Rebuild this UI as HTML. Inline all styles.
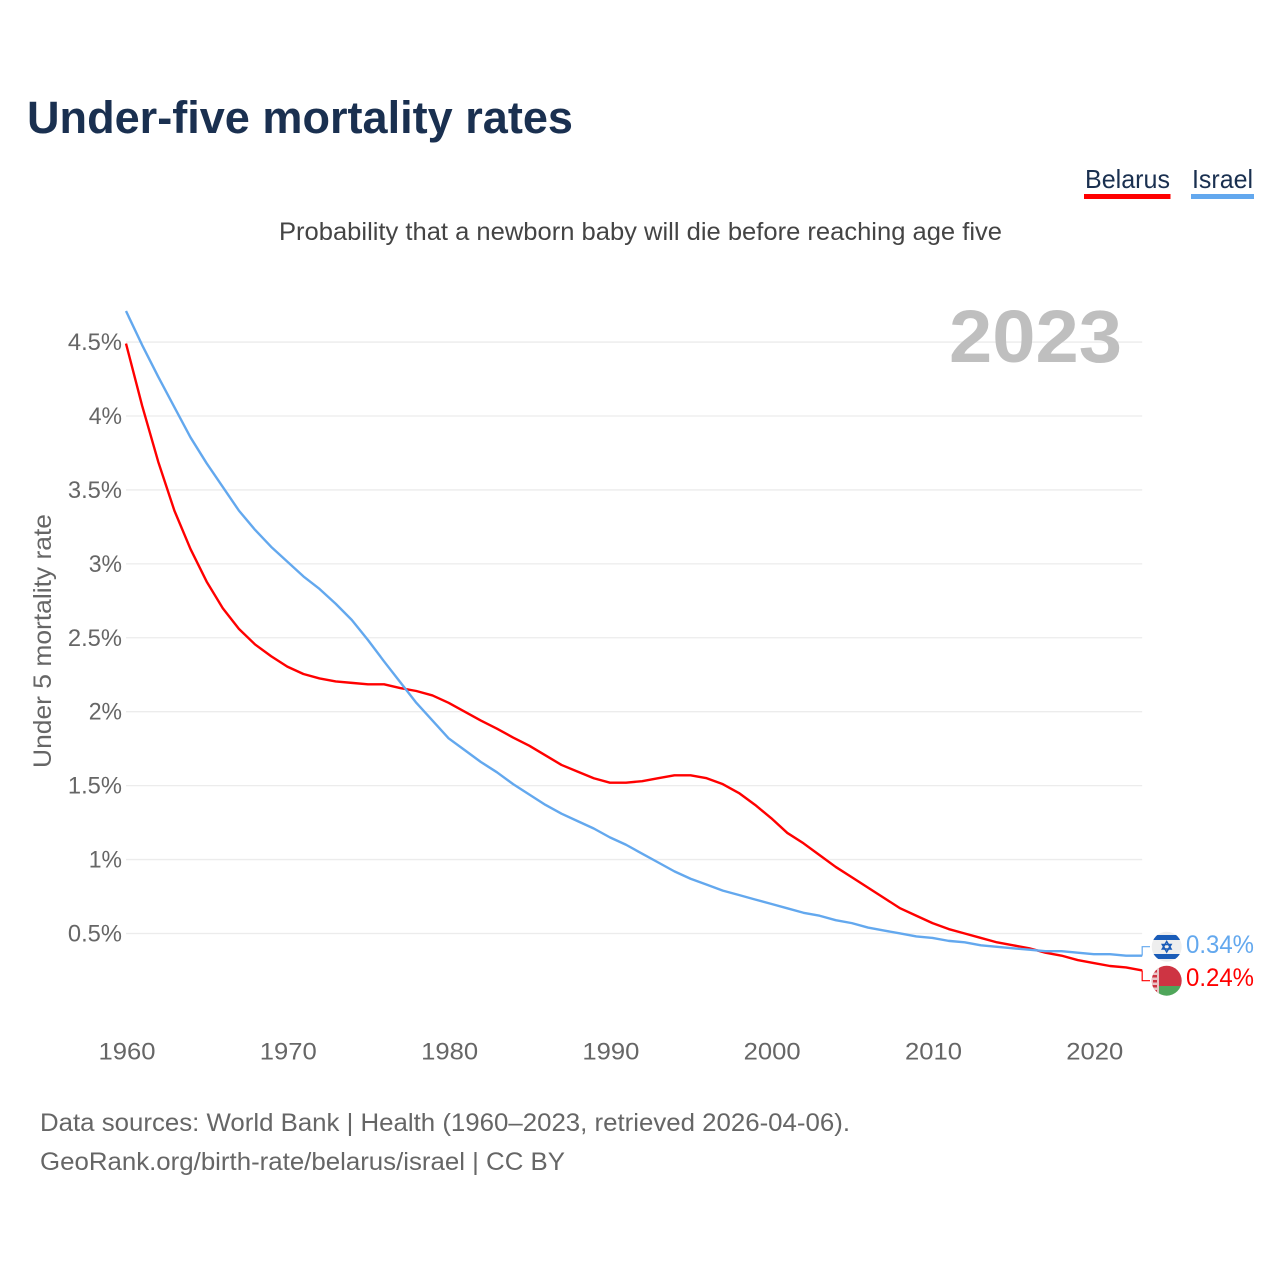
<!DOCTYPE html>
<html>
<head>
<meta charset="utf-8">
<title>Under-five mortality rates</title>
<style>
html,body{margin:0;padding:0;background:#fff;width:1280px;height:1280px;overflow:hidden}
svg{display:block;font-family:"Liberation Sans",sans-serif}
</style>
</head>
<body>
<svg id="chart" xmlns="http://www.w3.org/2000/svg" width="1280" height="1280" viewBox="0 0 1280 1280">
  <rect x="0" y="0" width="1280" height="1280" fill="#fff"/>
  <text x="27" y="133" font-size="45" font-weight="700" fill="#1a3050" textLength="546" lengthAdjust="spacingAndGlyphs">Under-five mortality rates</text>
  <text x="1085" y="188" font-size="26" fill="#1a3050" textLength="85" lengthAdjust="spacingAndGlyphs">Belarus</text>
  <rect x="1084" y="194" width="86.500" height="5" fill="#ff0000"/>
  <text x="1192" y="188" font-size="26" fill="#1a3050" textLength="61" lengthAdjust="spacingAndGlyphs">Israel</text>
  <rect x="1191" y="194" width="63" height="5" fill="#63a8ee"/>
  <text x="279" y="240" font-size="25" fill="#444" textLength="723" lengthAdjust="spacingAndGlyphs">Probability that a newborn baby will die before reaching age five</text>
  <g id="grid"></g>
  <text x="949" y="362" font-size="74" font-weight="700" fill="#bfbfbf" textLength="173" lengthAdjust="spacingAndGlyphs">2023</text>
  <g id="yticks"></g>
  <g id="xticks"></g>
  <text transform="translate(51,768) rotate(-90)" x="0" y="0" font-size="25" fill="#666" textLength="254" lengthAdjust="spacingAndGlyphs">Under 5 mortality rate</text>
  <path id="line-belarus" fill="none" stroke="#ff0000" stroke-width="2.400" stroke-linejoin="round"/>
  <path id="line-israel" fill="none" stroke="#63a8ee" stroke-width="2.400" stroke-linejoin="round"/>
  <path id="connector-israel" fill="none" stroke="#63a8ee" stroke-width="1.200"/>
  <path id="connector-belarus" fill="none" stroke="#ff0000" stroke-width="1.200"/>

  <defs>
    <clipPath id="clip-il"><circle cx="1166.700" cy="946.700" r="15"/></clipPath>
    <clipPath id="clip-by"><circle cx="1166.700" cy="980.700" r="15"/></clipPath>
  </defs>
  <g clip-path="url(#clip-il)">
    <rect x="1151" y="931" width="32" height="32" fill="#eeeeee"/>
    <rect x="1151" y="935" width="32" height="5" fill="#1a5cb8"/>
    <rect x="1151" y="954" width="32" height="5" fill="#1a5cb8"/>
    <polygon points="1166.700,941.500 1171.100,949 1162.300,949" fill="none" stroke="#1a5cb8" stroke-width="1.500"/>
    <polygon points="1166.700,952 1171.100,944.500 1162.300,944.500" fill="none" stroke="#1a5cb8" stroke-width="1.500"/>
  </g>
  <g clip-path="url(#clip-by)">
    <rect x="1151" y="965" width="32" height="21" fill="#ce3443"/>
    <rect x="1151" y="986" width="32" height="11" fill="#4fa65a"/>
    <rect x="1151" y="965" width="8" height="32" fill="#e9c4c6"/>
    <rect x="1153" y="970" width="4" height="2.500" fill="#ce3443"/>
    <rect x="1152" y="975" width="5" height="2.500" fill="#ce3443"/>
    <rect x="1153" y="980" width="4" height="2.500" fill="#ce3443"/>
    <rect x="1152" y="985" width="5" height="2.500" fill="#ce3443"/>
    <rect x="1153" y="990" width="4" height="2.500" fill="#ce3443"/>
  </g>
  <text x="1186" y="953" font-size="25" fill="#63a8ee" textLength="68" lengthAdjust="spacingAndGlyphs">0.34%</text>
  <text x="1186" y="986" font-size="25" fill="#ff0000" textLength="68" lengthAdjust="spacingAndGlyphs">0.24%</text>
  <text x="40" y="1131" font-size="25" fill="#666" textLength="810" lengthAdjust="spacingAndGlyphs">Data sources: World Bank | Health (1960–2023, retrieved 2026-04-06).</text>
  <text x="40" y="1170" font-size="25" fill="#666" textLength="525" lengthAdjust="spacingAndGlyphs">GeoRank.org/birth-rate/belarus/israel | CC BY</text>
</svg>
<script>
const startYear = 1960;
const belarusValues = [4.49,4.07,3.69,3.36,3.10,2.88,2.70,2.56,2.455,2.375,2.305,2.255,2.225,2.205,2.195,2.185,2.185,2.16,2.14,2.11,2.06,2.00,1.94,1.885,1.825,1.77,1.705,1.64,1.595,1.55,1.52,1.52,1.53,1.55,1.57,1.57,1.55,1.51,1.45,1.37,1.28,1.18,1.11,1.03,0.95,0.88,0.81,0.74,0.67,0.62,0.57,0.53,0.50,0.47,0.44,0.42,0.40,0.37,0.35,0.32,0.30,0.28,0.27,0.25];
const israelValues = [4.71,4.48,4.265,4.06,3.855,3.68,3.52,3.36,3.23,3.115,3.015,2.915,2.83,2.73,2.62,2.485,2.34,2.20,2.06,1.94,1.82,1.74,1.66,1.59,1.51,1.44,1.37,1.31,1.26,1.21,1.15,1.10,1.04,0.98,0.92,0.87,0.83,0.79,0.76,0.73,0.70,0.67,0.64,0.62,0.59,0.57,0.54,0.52,0.50,0.48,0.47,0.45,0.44,0.42,0.41,0.40,0.39,0.38,0.38,0.37,0.36,0.36,0.35,0.35];
const yTickValues = [0.5,1,1.5,2,2.5,3,3.5,4,4.5];
const yTickLabels = ["0.5%","1%","1.5%","2%","2.5%","3%","3.5%","4%","4.5%"];
const xTickValues = [1960,1970,1980,1990,2000,2010,2020];

const NS = 'http://www.w3.org/2000/svg';
function xScale(year){ return 126 + (year - 1960) * 16.13; }
function yScale(v){ return 1007.4 - v * 147.85; }
function linePath(values){
  return values.map(function(v,i){
    return (i ? 'L' : 'M') + xScale(startYear + i).toFixed(2) + ' ' + yScale(v).toFixed(2);
  }).join(' ');
}
function labelWidth(s){
  let w = 0;
  for (const c of s){ w += c === '%' ? 19 : c === '.' ? 6.500 : 14.3; }
  return w;
}

const grid = document.getElementById('grid');
const yTicks = document.getElementById('yticks');
yTickValues.forEach(function(v,i){
  const l = document.createElementNS(NS,'line');
  
  
  l.setAttribute('x1', xScale(1960));
  l.setAttribute('x2', xScale(2023));
  l.setAttribute('y1', yScale(v));
  l.setAttribute('y2', yScale(v));
  l.setAttribute('stroke', '#ececec');
  l.setAttribute('stroke-width', '1.300');
  grid.appendChild(l);

  const t = document.createElementNS(NS,'text');
  
  
  const w = labelWidth(yTickLabels[i]);
  t.setAttribute('x', 122 - w);
  t.setAttribute('y', yScale(v) + 8);
  t.setAttribute('font-size', '24');
  t.setAttribute('fill', '#666');
  t.setAttribute('textLength', w);
  t.setAttribute('lengthAdjust', 'spacingAndGlyphs');
  t.textContent = yTickLabels[i];
  yTicks.appendChild(t);
});

const xTicks = document.getElementById('xticks');
xTickValues.forEach(function(year){
  const t = document.createElementNS(NS,'text');
  
  
  t.setAttribute('x', xScale(year) - 27.500);
  t.setAttribute('y', 1059.500);
  t.setAttribute('font-size', '24.500');
  t.setAttribute('fill', '#666');
  t.setAttribute('textLength', '57');
  t.setAttribute('lengthAdjust', 'spacingAndGlyphs');
  t.textContent = String(year);
  xTicks.appendChild(t);
});

document.getElementById('line-belarus').setAttribute('d', linePath(belarusValues));
document.getElementById('line-israel').setAttribute('d', linePath(israelValues));

const endX = xScale(startYear + belarusValues.length - 1);
const endIsrael = yScale(israelValues[israelValues.length - 1]);
const endBelarus = yScale(belarusValues[belarusValues.length - 1]);
document.getElementById('connector-israel').setAttribute('d', 'M' + endX + ' ' + endIsrael + ' V946.700 H1150');
document.getElementById('connector-belarus').setAttribute('d', 'M' + endX + ' ' + endBelarus + ' V980.700 H1150');
</script>
</body>
</html>
